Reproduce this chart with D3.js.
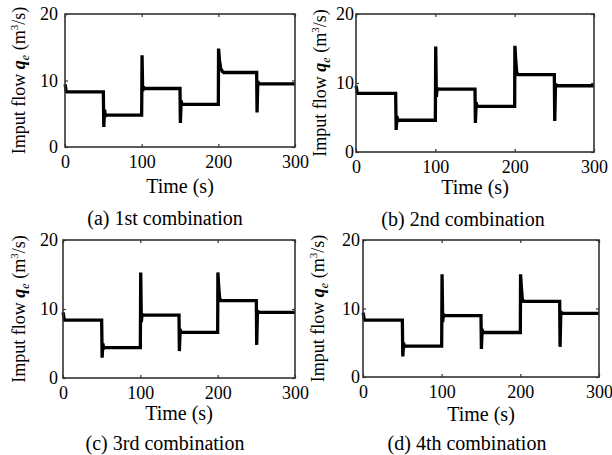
<!DOCTYPE html>
<html lang="en">
    <head>
        <meta charset="utf-8">
        <title>Imput flow - four combinations</title>
        <script type="text/javascript" src="https://cdnjs.cloudflare.com/ajax/libs/d3/7.8.5/d3.min.js"></script>
        <style type="text/css">
            body { margin: 0; background: #fff; }
            text { font-family: "Liberation Serif", "Times New Roman", serif; fill: #000; font-weight: normal; }
        </style>
    </head>
    <body>
        <script type="text/javascript">

          //Width and height
          var w = 612;
          var h = 455;

          //Tick labels
          var xTicks = [0, 100, 200, 300];
          var yTicks = [0, 10, 20];

          //Captions
          var captions = ["(a) 1st combination", "(b) 2nd combination",
                          "(c) 3rd combination", "(d) 4th combination"];

          //Series values [time (s), flow (m3/s)]
          var seriesA = [[0, 9.4], [0.6, 9.1], [1.5, 8.4], [2, 8.3], [50, 8.3], [50.6, 3.0], [51.6, 5.6], [52.6, 4.6], [53.5, 4.8],
                         [100, 4.8], [100.5, 13.8], [101.3, 8.4], [102.3, 9.1], [103.3, 8.8], [150, 8.8], [150.5, 3.6], [151.5, 7.0], [152.5, 6.4],
                         [200, 6.4], [200.3, 14.8], [201.5, 13.0], [203, 11.9], [205, 11.4], [207, 11.2],
                         [250, 11.2], [250.5, 5.2], [251.5, 9.9], [252.5, 9.5], [300, 9.5]];

          var seriesB = [[0, 9.6], [0.6, 9.3], [1.5, 8.6], [2, 8.5], [50, 8.5], [50.6, 3.2], [51.6, 5.2], [52.6, 4.5], [53.5, 4.6],
                         [100, 4.6], [100.5, 15.3], [101.3, 8.0], [102.3, 9.3], [103.3, 9.1], [150, 9.1], [150.5, 4.2], [151.5, 7.2], [152.5, 6.6],
                         [200, 6.6], [200.3, 15.4], [201.2, 13.6], [202.5, 11.6], [204, 11.2],
                         [250, 11.2], [250.5, 4.5], [251.5, 9.9], [252.5, 9.6], [300, 9.6]];

          var seriesC = [[0, 9.5], [0.6, 9.2], [1.5, 8.5], [2, 8.4], [50, 8.4], [50.6, 2.95], [51.6, 5.0], [52.6, 4.3], [53.5, 4.4],
                         [100, 4.4], [100.5, 15.3], [101.3, 8.1], [102.3, 9.3], [103.3, 9.1], [150, 9.1], [150.5, 3.9], [151.5, 7.1], [152.5, 6.6],
                         [200, 6.6], [200.3, 15.3], [201.2, 13.5], [202.5, 11.6], [204, 11.2],
                         [250, 11.2], [250.5, 4.8], [251.5, 9.8], [252.5, 9.5], [300, 9.5]];

          var seriesD = [[0, 9.4], [0.6, 9.1], [1.5, 8.4], [2, 8.3], [50, 8.3], [50.6, 3.0], [51.6, 5.0], [52.6, 4.4], [53.5, 4.5],
                         [100, 4.5], [100.5, 15.0], [101.3, 8.0], [102.3, 9.2], [103.3, 8.95], [150, 8.95], [150.5, 4.1], [151.5, 7.0], [152.5, 6.5],
                         [200, 6.5], [200.3, 15.0], [201.2, 13.3], [202.5, 11.4], [204, 11.05],
                         [250, 11.05], [250.5, 4.4], [251.5, 9.6], [252.5, 9.3], [300, 9.3]];

          var allSeries = [seriesA, seriesB, seriesC, seriesD];

          //Panel boxes (layout only)
          var panels = [
            {x0: 65,  x1: 295, y0: 14,  y1: 147, ylabX: 19,  timeY: 193, capX: 165, capY: 225, gap: 7},
            {x0: 356, x1: 594, y0: 14,  y1: 152, ylabX: 320, timeY: 194, capX: 463, capY: 226, gap: 2},
            {x0: 63,  x1: 295, y0: 240, y1: 378, ylabX: 19,  timeY: 420, capX: 165, capY: 450, gap: 5},
            {x0: 363, x1: 599, y0: 240, y1: 377, ylabX: 318, timeY: 421, capX: 467, capY: 450, gap: 3}
          ];

          //create the svg element
          var svg = d3.select("body")
                      .append("svg")
                      .attr("width", w)
                      .attr("height", h);

          panels.forEach(function(p, i) {

              var xScale = d3.scaleLinear()
                             .domain([0, 300])
                             .range([p.x0, p.x1]);

              var yScale = d3.scaleLinear()
                             .domain([0, 20])
                             .range([p.y1, p.y0]);

              var g = svg.append("g");

              //the flow line, drawn before the box
              var line = d3.line()
                           .x(function(d) { return xScale(d[0]); })
                           .y(function(d) { return yScale(d[1]); });

              g.append("path")
                .datum(allSeries[i])
                .attr("d", line)
                .attr("fill", "none")
                .attr("stroke", "#000")
                .attr("stroke-width", 3.3)
                .attr("stroke-linejoin", "miter")
                .attr("stroke-miterlimit", 3);

              //axes, ticks pointing inward
              var bottom = g.append("g")
                .attr("transform", "translate(0," + p.y1 + ")")
                .call(d3.axisBottom(xScale).tickValues(xTicks).tickSizeInner(-3).tickSizeOuter(0).tickPadding(8));

              var top = g.append("g")
                .attr("transform", "translate(0," + p.y0 + ")")
                .call(d3.axisTop(xScale).tickValues(xTicks).tickSizeInner(-3).tickSizeOuter(0).tickFormat(""));

              var left = g.append("g")
                .attr("transform", "translate(" + p.x0 + ",0)")
                .call(d3.axisLeft(yScale).tickValues(yTicks).tickSizeInner(-3).tickSizeOuter(0).tickPadding(p.gap));

              var right = g.append("g")
                .attr("transform", "translate(" + p.x1 + ",0)")
                .call(d3.axisRight(yScale).tickValues(yTicks).tickSizeInner(-3).tickSizeOuter(0).tickFormat(""));

              [bottom, top, left, right].forEach(function(a) {
                  a.select(".domain").remove();
                  a.selectAll("line").attr("stroke", "#333").attr("stroke-width", 1.2);
                  a.selectAll("text")
                    .attr("font-family", "Liberation Serif, Times New Roman, serif")
                    .attr("font-size", "18px")
                    .attr("fill", "#000");
              });

              //box
              g.append("rect")
                .attr("x", p.x0)
                .attr("y", p.y0)
                .attr("width", p.x1 - p.x0)
                .attr("height", p.y1 - p.y0)
                .attr("fill", "none")
                .attr("stroke", "#333")
                .attr("stroke-width", 1.6);

              //x label
              g.append("text")
                .attr("x", (p.x0 + p.x1) / 2)
                .attr("y", p.timeY)
                .attr("text-anchor", "middle")
                .attr("font-size", "20px")
                .text("Time (s)");

              //y label
              var yl = g.append("text")
                .attr("transform", "translate(" + (p.ylabX + 6) + "," + ((p.y0 + p.y1) / 2) + ") rotate(-90)")
                .attr("text-anchor", "middle")
                .attr("font-size", "18px");
              yl.append("tspan").text("Imput flow ");
              yl.append("tspan").attr("font-weight", "bold").attr("font-style", "italic").text("q");
              yl.append("tspan").attr("font-style", "italic").attr("font-size", "12px").attr("dy", 4).text("e");
              yl.append("tspan").attr("dy", -4).text(" (m");
              yl.append("tspan").attr("font-size", "11px").attr("dy", -7).text("3");
              yl.append("tspan").attr("dy", 7).text("/s)");

              //caption
              g.append("text")
                .attr("x", p.capX)
                .attr("y", p.capY)
                .attr("text-anchor", "middle")
                .attr("font-size", "20px")
                .text(captions[i]);
          });

        </script>
    </body>
</html>
